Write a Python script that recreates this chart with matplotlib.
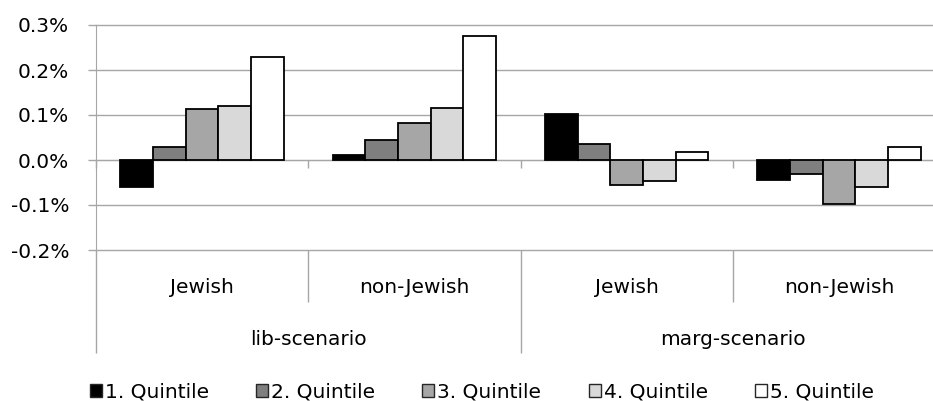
import matplotlib
matplotlib.use("Agg")
import matplotlib.pyplot as plt
from matplotlib.patches import Rectangle
from matplotlib.transforms import blended_transform_factory
from matplotlib.ticker import FuncFormatter

# ---- data (percent change) ----
scenarios = ["lib-scenario", "marg-scenario"]
groups = ["Jewish", "non-Jewish"]
quintiles = ["1. Quintile", "2. Quintile", "3. Quintile", "4. Quintile", "5. Quintile"]
# each list: lib/Jewish, lib/non-Jewish, marg/Jewish, marg/non-Jewish
q1 = [-0.061, 0.011, 0.102, -0.044]
q2 = [0.030, 0.045, 0.036, -0.030]
q3 = [0.113, 0.082, -0.056, -0.098]
q4 = [0.121, 0.116, -0.047, -0.061]
q5 = [0.228, 0.276, 0.018, 0.029]
series = [q1, q2, q3, q4, q5]
colors = ["#000000", "#7f7f7f", "#a6a6a6", "#d9d9d9", "#ffffff"]
yticks = [-0.2, -0.1, 0.0, 0.1, 0.2, 0.3]

plt.rcParams["font.family"] = ["DejaVu Sans"]
FS = 14.5
GRID = "#a6a6a6"

W, H = 933, 401
fig = plt.figure(figsize=(W / 100, H / 100), dpi=100)


def fx(px):
    return px / W


def fy(py):
    return 1 - py / H


# plot area: the category axis runs a little past the right edge of the canvas
ax = fig.add_axes([fx(96), fy(250), fx(849), 225 / H])

n_cat = len(scenarios) * len(groups)
n_ser = len(series)
bar_w = 1 / (n_ser + 1.5)  # 150% gap width
xs = list(range(n_cat))

for i, (vals, col) in enumerate(zip(series, colors)):
    offs = (i - (n_ser - 1) / 2) * bar_w
    ax.bar([x + offs for x in xs], vals, bar_w, color=col, edgecolor="black",
           linewidth=1.3, zorder=3, label=quintiles[i])

ax.set_xlim(-0.5, n_cat - 0.5)
ax.set_ylim(min(yticks), max(yticks))

# value axis
ax.set_yticks(yticks)
ax.yaxis.set_major_formatter(FuncFormatter(lambda v, _: f"{v:.1f}%"))
ax.yaxis.grid(True, color=GRID, linewidth=1.0)
ax.set_axisbelow(True)
for gl in ax.get_ygridlines():
    gl.set_clip_on(False)
ax.tick_params(axis="y", length=5.8, width=1.0, color=GRID, pad=13.5,
               labelsize=FS, labelcolor="black")

# category axis sits on zero with tick marks between the groups
bounds = [b - 0.5 for b in range(n_cat + 1)]
ax.spines["bottom"].set_position(("data", 0))
ax.spines["bottom"].set_color(GRID)
ax.spines["left"].set_color(GRID)
ax.spines["top"].set_visible(False)
ax.spines["right"].set_visible(False)
ax.set_xticks(bounds)
ax.tick_params(axis="x", length=5.8, width=1.0, color=GRID, direction="out",
               labelbottom=False)

# two-level category labels below the plot area
trans = blended_transform_factory(ax.transData, fig.transFigure)
for k, b in enumerate(bounds):
    outer = k % len(groups) == 0
    y_end = 353 if outer else 302
    ax.plot([b, b], [fy(250), fy(y_end)], transform=trans, color=GRID,
            linewidth=1.0, clip_on=False, solid_capstyle="butt")

for s, scen in enumerate(scenarios):
    for g, grp in enumerate(groups):
        xi = s * len(groups) + g
        ax.text(xi, fy(293), grp, transform=trans, ha="center",
                va="baseline", fontsize=FS, clip_on=False)
    xc = s * len(groups) + (len(groups) - 1) / 2
    ax.text(xc, fy(345), scen, transform=trans, ha="center", va="baseline",
            fontsize=FS, clip_on=False)

# legend row
x0, pitch = 90, 166.2
for i, (lab, col) in enumerate(zip(quintiles, colors)):
    sx = x0 + i * pitch
    fig.patches.append(Rectangle((fx(sx), fy(397)), fx(12), 13 / H,
                                 transform=fig.transFigure, facecolor=col,
                                 edgecolor="#262626", linewidth=1.0))
    fig.text(fx(sx + 15), fy(397.5), lab, ha="left", va="baseline",
             fontsize=FS)

fig.savefig("out.png", dpi=100)
